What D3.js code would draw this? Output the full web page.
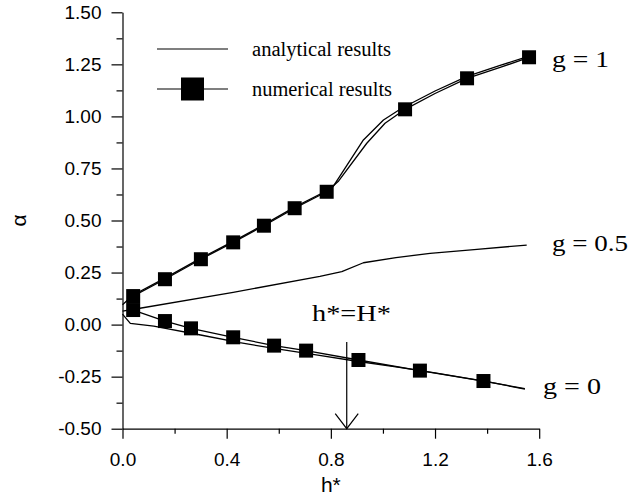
<!DOCTYPE html>
<html lang="en">
<head>
<meta charset="utf-8" />
<title>alpha vs h*</title>
<style>
html, body {
	margin: 0;
	padding: 0;
	background: #fff;
}
svg {
	display: block;
}
.tick text {
	font-family: "Liberation Sans", Arial, sans-serif;
	font-size: 19px;
	fill: #000;
}
.serif {
	font-family: "Liberation Serif", "Times New Roman", serif;
	fill: #000;
}
</style>
</head>
<body>
<svg width="638" height="499"></svg>

<script src="https://cdn.jsdelivr.net/npm/d3@7/dist/d3.min.js"></script>
<script>
// ---- data ----
// g = 1, numerical (markers)
var hNum1 = [0.041, 0.163, 0.301, 0.425, 0.543, 0.661, 0.784, 1.085, 1.323, 1.561];
var aNum1 = [0.137, 0.218, 0.314, 0.395, 0.475, 0.559, 0.638, 1.034, 1.183, 1.284];
// g = 1, numerical line (passes between markers too)
var hNumLine1 = [0.041, 0.163, 0.301, 0.425, 0.543, 0.661, 0.784, 0.83, 0.938, 1.008, 1.085, 1.2, 1.323, 1.45, 1.561];
var aNumLine1 = [0.137, 0.218, 0.314, 0.395, 0.475, 0.559, 0.638, 0.69, 0.871, 0.967, 1.034, 1.11, 1.183, 1.235, 1.284];
// g = 1, analytical
var hAna1 = [0, 0.041, 0.163, 0.301, 0.425, 0.543, 0.661, 0.784, 0.808, 0.925, 1.002, 1.072, 1.2, 1.323, 1.45, 1.561];
var aAna1 = [0.095, 0.142, 0.223, 0.319, 0.4, 0.48, 0.564, 0.643, 0.662, 0.887, 0.983, 1.039, 1.122, 1.192, 1.245, 1.29];

// g = 0.5, analytical
var hAna05 = [0, 0.05, 0.425, 0.758, 0.842, 0.925, 1.05, 1.181, 1.35, 1.552];
var aAna05 = [0.065, 0.075, 0.155, 0.232, 0.254, 0.297, 0.322, 0.342, 0.36, 0.382];

// g = 0, numerical (markers)
var hNum0 = [0.041, 0.163, 0.263, 0.425, 0.582, 0.705, 0.906, 1.142, 1.386];
var aNum0 = [0.070, 0.017, -0.018, -0.061, -0.101, -0.125, -0.170, -0.221, -0.271];
var hNumLine0 = [0.041, 0.163, 0.263, 0.425, 0.582, 0.705, 0.906, 1.142, 1.386, 1.545];
var aNumLine0 = [0.070, 0.017, -0.018, -0.061, -0.101, -0.125, -0.170, -0.221, -0.271, -0.308];
// g = 0, analytical
var hAna0 = [0, 0.03, 0.12, 0.3, 0.45, 0.6, 0.75, 0.9, 1.05, 1.2, 1.4, 1.545];
var aAna0 = [0.05, 0.006, -0.007, -0.05, -0.087, -0.118, -0.147, -0.176, -0.203, -0.232, -0.274, -0.31];

// h* = H* marker
var hStar = 0.861;
var hStarTop = -0.083;

// axis ticks
var yMajor = [-0.5, -0.25, 0, 0.25, 0.5, 0.75, 1.0, 1.25, 1.5];
var yMinor = [-0.375, -0.125, 0.125, 0.375, 0.625, 0.875, 1.125, 1.375];
var xMajor = [0, 0.4, 0.8, 1.2, 1.6];
var xMinor = [0.2, 0.6, 1.0, 1.4];

var seriesLabels = ["g = 1", "g = 0.5", "g = 0"];
var legendLabels = ["analytical results", "numerical results"];

// ---- drawing ----
var svg = d3.select("svg");

var x = d3.scaleLinear().domain([0, 1.6]).range([122.5, 539.2]);
var y = d3.scaleLinear().domain([-0.5, 1.5]).range([428.7, 12.3]);

// plain hyphen for negatives, like the original
var loc = d3.formatLocale({decimal: ".", thousands: ",", grouping: [3], currency: ["", ""], minus: "-"});

function pts(hs, as) {
	return hs.map(function(h, i) { return [h, as[i]]; });
}

var line = d3.line()
	.x(function(d) { return x(d[0]); })
	.y(function(d) { return y(d[1]); });

// axes
var gy = svg.append("g").attr("transform", "translate(" + x(0) + ",0)");
gy.call(d3.axisLeft(y).tickValues(yMajor).tickFormat(loc.format(".2f"))
	.tickSize(11).tickSizeOuter(0).tickPadding(10));
gy.append("g").call(d3.axisLeft(y).tickValues(yMinor).tickFormat("")
	.tickSize(6).tickSizeOuter(0))
	.select(".domain").remove();

var gx = svg.append("g").attr("transform", "translate(0," + y(-0.5) + ")");
gx.call(d3.axisBottom(x).tickValues(xMajor).tickFormat(loc.format(".1f"))
	.tickSize(10).tickSizeOuter(0).tickPadding(14));
gx.append("g").call(d3.axisBottom(x).tickValues(xMinor).tickFormat("")
	.tickSize(5).tickSizeOuter(0))
	.select(".domain").remove();

svg.selectAll(".domain, .tick line").attr("stroke", "#000").attr("stroke-width", 1.2);
svg.selectAll(".tick text").attr("fill", "#000");

// axis titles
svg.append("text")
	.attr("x", (x(0) + x(1.6)) / 2)
	.attr("y", 492)
	.attr("text-anchor", "middle")
	.style("font-family", "'Liberation Sans', Arial, sans-serif")
	.style("font-size", "21px")
	.text("h*");

svg.append("text")
	.attr("transform", "translate(26," + (y(-0.5) + y(1.5)) / 2 + ") rotate(-90)")
	.attr("text-anchor", "middle")
	.style("font-family", "'Liberation Sans', Arial, sans-serif")
	.style("font-size", "21px")
	.text("α");

// curves
var curves = [
	pts(hAna1, aAna1), pts(hNumLine1, aNumLine1),
	pts(hAna05, aAna05),
	pts(hAna0, aAna0), pts(hNumLine0, aNumLine0)
];
svg.append("g").selectAll("path")
	.data(curves)
	.enter()
	.append("path")
	.attr("d", line)
	.attr("fill", "none")
	.attr("stroke", "#000")
	.attr("stroke-width", 1.3)
	.attr("stroke-linejoin", "round");

// markers
var sq = 14;
svg.append("g").selectAll("rect")
	.data(pts(hNum1, aNum1).concat(pts(hNum0, aNum0)))
	.enter()
	.append("rect")
	.attr("x", function(d) { return x(d[0]) - sq / 2; })
	.attr("y", function(d) { return y(d[1]) - sq / 2; })
	.attr("width", sq)
	.attr("height", sq)
	.attr("fill", "#000");

// arrow at h* = H*
var ax = x(hStar);
svg.append("line")
	.attr("x1", ax).attr("x2", ax)
	.attr("y1", y(hStarTop)).attr("y2", y(-0.5))
	.attr("stroke", "#000").attr("stroke-width", 1.2);
svg.append("path")
	.attr("d", "M" + (ax - 11.5) + "," + (y(-0.5) - 15) + "L" + ax + "," + y(-0.5) + "L" + (ax + 11.5) + "," + (y(-0.5) - 15))
	.attr("fill", "none").attr("stroke", "#000").attr("stroke-width", 1.2);
svg.append("text")
	.attr("class", "serif")
	.attr("x", 312)
	.attr("y", 321)
	.attr("textLength", 79)
	.attr("lengthAdjust", "spacingAndGlyphs")
	.style("font-size", "23px")
	.text("h*=H*");

// series labels
var labelPos = [[552, 66.7, 57], [552, 251, 76], [543, 394, 58]];
svg.append("g").selectAll("text")
	.data(seriesLabels)
	.enter()
	.append("text")
	.attr("class", "serif")
	.attr("x", function(d, i) { return labelPos[i][0]; })
	.attr("y", function(d, i) { return labelPos[i][1]; })
	.attr("textLength", function(d, i) { return labelPos[i][2]; })
	.attr("lengthAdjust", "spacingAndGlyphs")
	.style("font-size", "23px")
	.text(function(d) { return d; });

// legend
var legend = svg.append("g");
var legY = [49, 89];
var legW = [139, 140];
legY.forEach(function(ly, i) {
	legend.append("line")
		.attr("x1", 157).attr("x2", 228)
		.attr("y1", ly).attr("y2", ly)
		.attr("stroke", "#000").attr("stroke-width", 1.2);
	legend.append("text")
		.attr("class", "serif")
		.attr("x", 252)
		.attr("y", ly + 7)
		.attr("textLength", legW[i])
		.attr("lengthAdjust", "spacingAndGlyphs")
		.style("font-size", "20px")
		.text(legendLabels[i]);
});
legend.append("rect")
	.attr("x", 192.5 - 11.5).attr("y", legY[1] - 11.5)
	.attr("width", 23).attr("height", 23)
	.attr("fill", "#000");
</script>
</body>
</html>
